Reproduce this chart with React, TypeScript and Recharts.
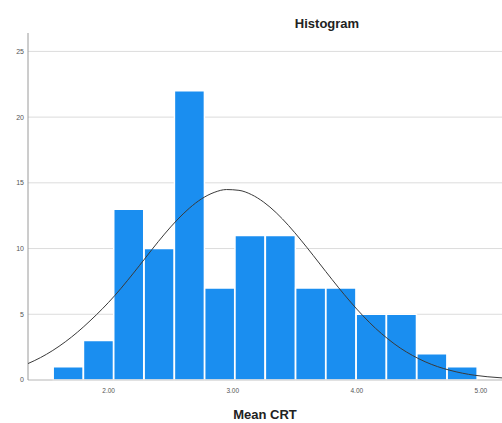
import { BarChart, Bar, LineChart, Line, XAxis, YAxis, CartesianGrid, Label } from 'recharts'

// histogram bins (center of each bin) and their frequencies
export const binCenters = [1.675, 1.919, 2.163, 2.408, 2.652, 2.896, 3.14, 3.385, 3.629, 3.873, 4.117, 4.361, 4.606, 4.85]
export const binCounts = [1, 3, 13, 10, 22, 7, 11, 11, 7, 7, 5, 5, 2, 1]

// normal curve
export const curveX = [1.35, 1.45, 1.55, 1.65, 1.75, 1.85, 1.95, 2.05, 2.15, 2.25, 2.35, 2.45, 2.55, 2.65, 2.75, 2.85, 2.95, 3.05, 3.15, 3.25, 3.35, 3.45, 3.55, 3.65, 3.75, 3.85, 3.95, 4.05, 4.15, 4.25, 4.35, 4.45, 4.55, 4.65, 4.75, 4.85, 4.95, 5.05, 5.17]
export const curveY = [1.25, 1.7, 2.25, 2.9, 3.65, 4.5, 5.42, 6.43, 7.55, 8.73, 9.94, 11.1, 12.16, 13.07, 13.79, 14.27, 14.49, 14.43, 14.11, 13.53, 12.73, 11.75, 10.64, 9.46, 8.25, 7.06, 5.93, 4.88, 3.94, 3.13, 2.43, 1.86, 1.39, 1.02, 0.74, 0.52, 0.36, 0.25, 0.16]

export const xTicks = [2, 3, 4, 5]
export const yTicks = [0, 5, 10, 15, 20, 25]

const histData = binCenters.map((x, i) => ({ x, count: binCounts[i] }))
const curveData = curveX.map((x, i) => ({ x, density: curveY[i] }))

const W = 502
const H = 423
const margin = { top: 33, right: 0, left: 0, bottom: 0 }
const xDomain = [1.35, 5.17]
const yDomain = [0, 26.4]
const font = 'Arial, "Liberation Sans", sans-serif'

export default function App() {
    return (
        <div style={{ position: 'absolute', left: 0, top: 0, width: W, height: H, background: '#fff', fontFamily: font }}>
            <div
                style={{
                    position: 'absolute',
                    left: 327,
                    top: 16,
                    transform: 'translateX(-50%)',
                    fontSize: 13,
                    fontWeight: 'bold',
                    color: '#222',
                    whiteSpace: 'nowrap',
                }}
            >
                Histogram
            </div>
            <BarChart width={W} height={H} data={histData} margin={margin} barCategoryGap={0} barGap={0}>
                <CartesianGrid vertical={false} stroke='#dcdcdc' horizontalValues={yTicks} />
                <XAxis
                    dataKey='x'
                    type='number'
                    domain={xDomain}
                    allowDataOverflow
                    ticks={xTicks}
                    tickFormatter={(v) => v.toFixed(2)}
                    height={43}
                    tickLine={false}
                    tickSize={4}
                    tickMargin={4}
                    axisLine={{ stroke: '#c8c8c8' }}
                    tick={{ fontSize: 6.5, fill: '#555', fontFamily: font }}
                >
                    <Label
                        value='Mean CRT'
                        position='insideBottom'
                        offset={4}
                        style={{ fontSize: 13, fontWeight: 'bold', fill: '#222', fontFamily: font }}
                    />
                </XAxis>
                <YAxis
                    type='number'
                    domain={yDomain}
                    ticks={yTicks}
                    width={28}
                    tickLine={false}
                    tickSize={2}
                    tickMargin={2}
                    axisLine={{ stroke: '#9a9a9a' }}
                    tick={{ fontSize: 7, fill: '#555', fontFamily: font }}
                />
                <Bar dataKey='count' fill='#1a8ef0' stroke='#ffffff' strokeWidth={1.5} isAnimationActive={false} />
            </BarChart>
            <div style={{ position: 'absolute', left: 0, top: 0 }}>
                <LineChart width={W} height={H} data={curveData} margin={margin}>
                    <XAxis
                        dataKey='x'
                        type='number'
                        domain={xDomain}
                        allowDataOverflow
                        ticks={xTicks}
                        height={43}
                        tick={false}
                        tickLine={false}
                        axisLine={false}
                    />
                    <YAxis type='number' domain={yDomain} ticks={yTicks} width={28} tick={false} tickLine={false} axisLine={false} />
                    <Line
                        dataKey='density'
                        type='monotone'
                        stroke='#3a3a3a'
                        strokeWidth={1}
                        dot={false}
                        isAnimationActive={false}
                    />
                </LineChart>
            </div>
        </div>
    )
}
